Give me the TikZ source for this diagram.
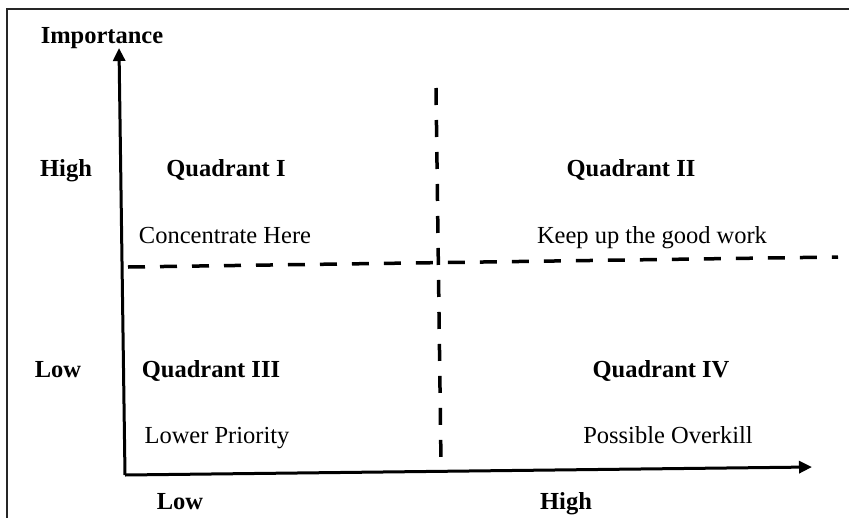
\documentclass[tikz,border=0pt]{standalone}
\usepackage{fontspec}
\setmainfont{Liberation Serif}
\usetikzlibrary{arrows.meta}
\begin{document}
\begin{tikzpicture}[x=1pt,y=-1pt,
  lbl/.style={anchor=base,inner sep=0pt,font=\fontsize{24.5}{27}\selectfont},
  blbl/.style={lbl,font=\fontsize{24.5}{27}\selectfont\bfseries},
  axis/.style={line width=3pt,-{Triangle[length=13pt,width=12pt]}},
  divider/.style={line width=3.5pt,dash pattern=on 17pt off 15pt}]
\useasboundingbox (0,0) rectangle (849,517);
\draw[line width=2pt,black!85] (7,530) -- (7,9) -- (860,9);
% coordinates
\coordinate (O) at (125,475);
\coordinate (Ytop) at (119,48);
\coordinate (Xend) at (812,467);
\coordinate (Hl) at (128,267);
\coordinate (Hr) at (838,257);
\coordinate (Vt) at (436,88);
\coordinate (Vb) at (441,463);
% dividers
\draw[divider] (Hl) -- (Hr);
\draw[divider] (Vt) -- (Vb);
% axes
\draw[axis] (O) -- (Ytop);
\draw[axis] (O) -- (Xend);
% labels
\node[blbl] (imp) at (102,43) {Importance};
\node[blbl] (yhigh) at (66,176) {High};
\node[blbl] (ylow) at (58,377) {Low};
\node[blbl] (xlow) at (180,509) {Low};
\node[blbl] (xhigh) at (566,509) {High};
\node[blbl] (q1) at (226,176) {Quadrant I};
\node[blbl] (q2) at (631,176) {Quadrant II};
\node[blbl] (q3) at (211,377) {Quadrant III};
\node[blbl] (q4) at (661,377) {Quadrant IV};
\node[lbl] (t1) at (225,243) {Concentrate Here};
\node[lbl] (t2) at (652,243) {Keep up the good work};
\node[lbl] (t3) at (217,443) {Lower Priority};
\node[lbl] (t4) at (668,443) {Possible Overkill};
\end{tikzpicture}
\end{document}
